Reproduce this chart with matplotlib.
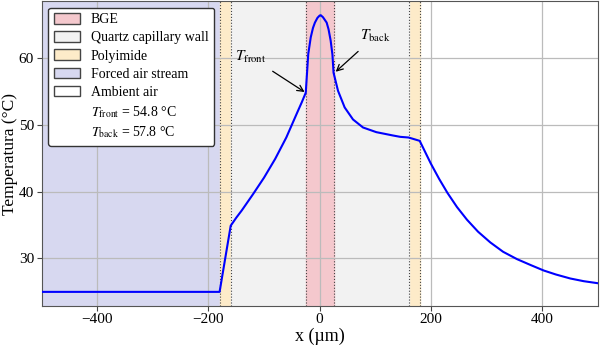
import numpy as np
import matplotlib.pyplot as plt
from matplotlib.patches import Patch

plt.rcParams['font.family'] = ['Liberation Serif', 'DejaVu Serif']
plt.rcParams['mathtext.fontset'] = 'stix'

# temperature profile (x in um, T in degC)
x_um = [-500, -180, -160, -150, -140, -120, -100, -80, -60, -50, -40, -32, -25,
        -20.5, -16, -12, -8.5, -4, 0, 2, 6, 12.6, 16, 19.8, 23, 25,
        33, 45, 60, 78, 102, 132, 145, 160,
        180, 200, 215, 230, 247, 265, 285, 307, 330, 355, 380, 403, 425, 451,
        475, 500]
temp = [25.0, 25.0, 34.9, 36.1, 37.2, 39.6, 42.1, 44.9, 48.1, 50.0, 51.9, 53.4, 54.8,
        60.6, 63.1, 64.5, 65.3, 66.0, 66.35, 66.4, 66.1, 65.3, 64.3, 62.6, 60.5, 57.8,
        55.1, 52.6, 50.8, 49.6, 48.9, 48.4, 48.2, 48.1,
        47.6, 44.2, 41.9, 39.8, 37.7, 35.8, 34.0, 32.4, 31.0, 29.9, 29.0, 28.2, 27.6,
        27.0, 26.6, 26.3]

# regions (start, end) in um
forced_air = (-500, -180)
polyimide = [(-180, -160), (160, 180)]
quartz = [(-160, -25), (25, 160)]
bge = (-25, 25)
boundaries = [-180, -160, -25, 25, 160, 180]

T_front = 54.8
T_back = 57.8

fig, ax = plt.subplots(figsize=(6, 3.47), dpi=100)
fig.subplots_adjust(left=0.0695, right=0.996, bottom=0.119, top=0.996)

ax.axvspan(*forced_air, color='#d7d8f0', zorder=0)
for a, b in polyimide:
    ax.axvspan(a, b, color='#fdebc9', zorder=0)
for a, b in quartz:
    ax.axvspan(a, b, color='#f2f2f2', zorder=0)
ax.axvspan(*bge, color='#f4c8cd', zorder=0)
for b in boundaries:
    ax.axvline(b, color='#444444', linestyle=':', linewidth=0.8, zorder=1)

ax.grid(True, color='#bbbbbb', linewidth=0.9)
ax.plot(x_um, temp, color='blue', linewidth=1.5, zorder=3)

ax.annotate(r'$T_{\mathrm{front}}$', xy=(-25, T_front), xytext=(-125, 60.2),
            fontsize=11, ha='center', va='center',
            arrowprops=dict(arrowstyle='->', color='black', lw=0.9,
                            shrinkA=5, shrinkB=1))
ax.annotate(r'$T_{\mathrm{back}}$', xy=(27, T_back), xytext=(100, 63.3),
            fontsize=11, ha='center', va='center',
            arrowprops=dict(arrowstyle='->', color='black', lw=0.9,
                            shrinkA=5, shrinkB=1))

ax.set_xlim(-500, 500)
ax.set_xlabel('x (µm)', fontsize=13, labelpad=1)
ax.set_ylabel('Temperatura (°C)', fontsize=12.5)
ax.yaxis.set_label_coords(-0.043, 0.5)
ax.set_xticks([-400, -200, 0, 200, 400])
ax.set_yticks([30, 40, 50, 60])
ax.tick_params(labelsize=11, color='#444444', pad=2)
for s in ax.spines.values():
    s.set_color('#555555')

edge = '#444444'
handles = [
    Patch(facecolor='#f4c8cd', edgecolor=edge, label='BGE'),
    Patch(facecolor='#f2f2f2', edgecolor=edge, label='Quartz capillary wall'),
    Patch(facecolor='#fdebc9', edgecolor=edge, label='Polyimide'),
    Patch(facecolor='#d7d8f0', edgecolor=edge, label='Forced air stream'),
    Patch(facecolor='white', edgecolor=edge, label='Ambient air'),
    Patch(facecolor='none', edgecolor='none',
          label=r'$T_{\mathrm{front}}$ = %.1f °C' % T_front),
    Patch(facecolor='none', edgecolor='none',
          label=r'$T_{\mathrm{back}}$ = %.1f °C' % T_back),
]
leg = ax.legend(handles=handles, loc='upper left', fontsize=10,
                framealpha=1, edgecolor='#333333', fancybox=True,
                handlelength=1.9, handleheight=0.8, labelspacing=0.36,
                borderaxespad=0.45)
leg.get_frame().set_linewidth(1.0)

fig.savefig('out.png', dpi=100)
